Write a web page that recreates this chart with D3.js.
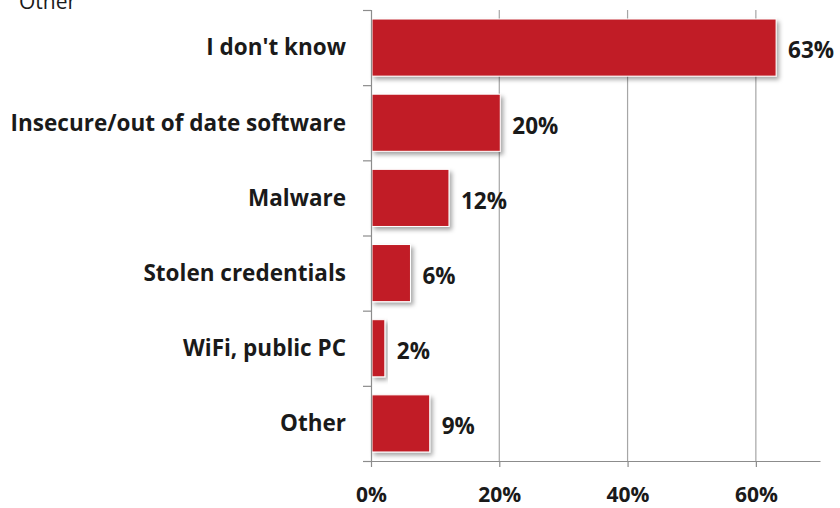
<!DOCTYPE html>
<html>
<head>
<meta charset="utf-8">
<script src="https://cdn.jsdelivr.net/npm/d3@7"></script>
<style>
  html, body { margin: 0; padding: 0; background: #fff; }
  svg { display: block; }
</style>
</head>
<body>
<svg id="chart" width="840" height="508"></svg>
<script>
// Survey responses: how the breach happened
const categories = ["I don't know", "Insecure/out of date software", "Malware",
                    "Stolen credentials", "WiFi, public PC", "Other"];
const values = [63, 20, 12, 6, 2, 9];
const xTicks = [0, 20, 40, 60];

const W = 840, H = 508;
const m = { left: 371, right: 20, top: 10, bottom: 47 };
const svg = d3.select("#chart");

const defs = svg.append("defs");
const f = defs.append("filter").attr("id", "shadow")
  .attr("x", "-10%").attr("y", "-20%").attr("width", "130%").attr("height", "150%");
f.append("feDropShadow").attr("dx", 2.5).attr("dy", 3).attr("stdDeviation", 2)
  .attr("flood-color", "#000").attr("flood-opacity", 0.35);

const x = d3.scaleLinear().domain([0, 70]).range([m.left, W - m.right]);
const y = d3.scaleBand().domain(categories).range([m.top, H - m.bottom])
  .paddingInner(0.24).paddingOuter(0.12);
const yEdges = d3.scaleLinear().domain([0, categories.length]).range([m.top, H - m.bottom]);

const font = "'Open Sans', sans-serif";

// vertical gridlines
svg.append("g").selectAll("line").data(xTicks.filter(d => d > 0)).join("line")
  .attr("x1", d => x(d)).attr("x2", d => x(d))
  .attr("y1", m.top).attr("y2", H - m.bottom)
  .attr("stroke", "#a6a6a6").attr("stroke-width", 1.2);

// bars
svg.append("g").selectAll("rect").data(values).join("rect")
  .attr("x", x(0) + 1)
  .attr("y", (d, i) => y(categories[i]))
  .attr("width", d => x(d) - x(0))
  .attr("height", y.bandwidth())
  .attr("fill", "#c11f27")
  .attr("stroke", "#fff").attr("stroke-width", 1)
  .attr("filter", "url(#shadow)");

// value labels
svg.append("g").selectAll("text").data(values).join("text")
  .attr("x", d => x(d) + 13)
  .attr("y", (d, i) => y(categories[i]) + y.bandwidth() / 2 + 3)
  .attr("dy", "0.35em")
  .attr("font-family", font).attr("font-weight", "bold").attr("font-size", 22.5)
  .attr("fill", "#1a1a1a")
  .text(d => d + "%");

// left axis with ticks at category boundaries
const yAxis = svg.append("g").attr("transform", `translate(${m.left},0)`)
  .call(d3.axisLeft(yEdges).ticks(categories.length).tickSize(8).tickFormat(""));
yAxis.selectAll("path, line").attr("stroke", "#8c8c8c").attr("stroke-width", 1.2);

// category labels
svg.append("g").selectAll("text").data(categories).join("text")
  .attr("x", 346)
  .attr("y", d => y(d) + y.bandwidth() / 2)
  .attr("dy", "0.35em")
  .attr("text-anchor", "end")
  .attr("font-family", font).attr("font-weight", "bold").attr("font-size", 22.5)
  .attr("fill", "#1a1a1a")
  .text(d => d);

// bottom axis
const xAxis = svg.append("g").attr("transform", `translate(0,${H - m.bottom})`)
  .call(d3.axisBottom(x).tickValues(xTicks).tickSize(6).tickSizeOuter(0).tickFormat(d => d + "%"));
xAxis.selectAll("path, line").attr("stroke", "#8c8c8c").attr("stroke-width", 1.2);
xAxis.selectAll("text")
  .attr("y", 33.5).attr("dy", "0.35em")
  .attr("font-family", font).attr("font-weight", "bold").attr("font-size", 21)
  .attr("fill", "#1a1a1a");

// legend entry at the top edge
svg.append("text").attr("x", 19).attr("y", 9)
  .attr("font-family", font).attr("font-size", 21).attr("fill", "#1a1a1a")
  .text("Other");
</script>
</body>
</html>
